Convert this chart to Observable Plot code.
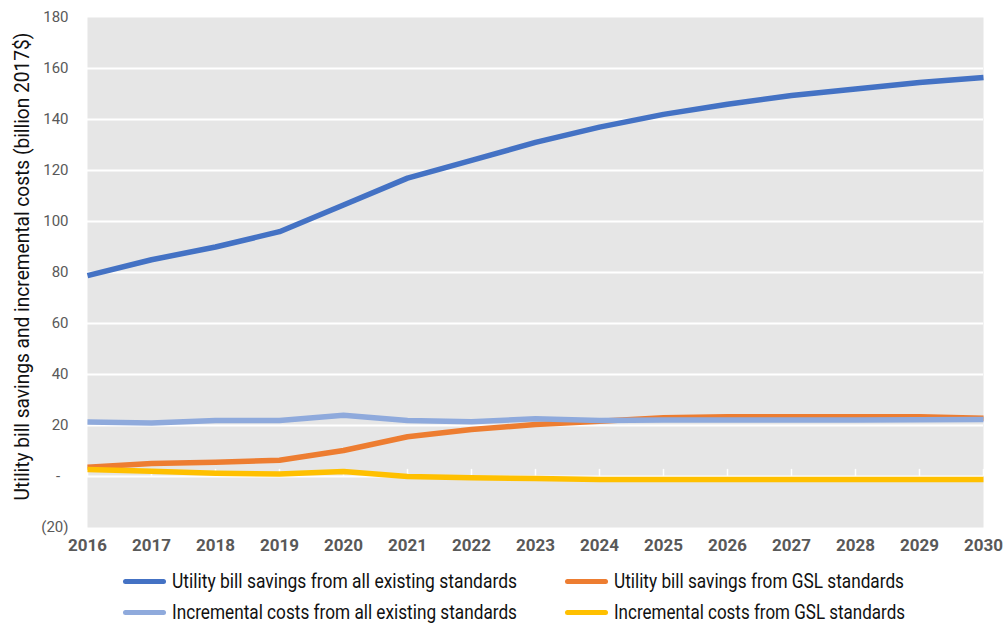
<!DOCTYPE html>
<html>
<head>
<meta charset="utf-8">
<script src="https://cdn.jsdelivr.net/npm/d3@7"></script>
<script src="https://cdn.jsdelivr.net/npm/@observablehq/plot@0.6"></script>
<style>
  body { margin: 0; background: #fff; width: 1005px; height: 625px; overflow: hidden; position: relative; }
  #chart { position: absolute; left: 0; top: 0; }
  .legend { position: absolute; left: 0; top: 0; font-family: Roboto, sans-serif; font-size: 20px; color: #111; }
  .item { position: absolute; height: 24px; white-space: nowrap; }
  .sw { position: absolute; left: 0; top: 10px; width: 43px; height: 5px; border-radius: 3px; }
  .lab { position: absolute; left: 49px; top: 0; line-height: 24px; transform-origin: 0 50%; }
</style>
</head>
<body>
<div id="chart"></div>
<div class="legend" id="legend"></div>
<script>
// Years on the horizontal axis
const years = [2016, 2017, 2018, 2019, 2020, 2021, 2022, 2023, 2024, 2025, 2026, 2027, 2028, 2029, 2030];

// Series values, billion 2017$
const savingsAll = [78.8, 85, 90, 96, 106.5, 117, 124, 131, 137, 142, 146, 149.4, 152, 154.5, 156.5];
const savingsGSL = [3.6, 5.1, 5.6, 6.4, 10.2, 15.6, 18.4, 20.4, 21.7, 23, 23.4, 23.4, 23.4, 23.4, 22.8];
const costsAll   = [21.4, 21, 22, 22, 24, 22, 21.5, 22.6, 22, 22.2, 22.2, 22.2, 22.2, 22.3, 22.4];
const costsGSL   = [2.7, 2.1, 1.3, 1.0, 2.0, 0, -0.5, -0.8, -1.2, -1.2, -1.2, -1.2, -1.2, -1.2, -1.2];

// Y tick values
const yTicks = [-20, 0, 20, 40, 60, 80, 100, 120, 140, 160, 180];

const seriesNames = [
  "Utility bill savings from all existing standards",
  "Utility bill savings from GSL standards",
  "Incremental costs from all existing standards",
  "Incremental costs from GSL standards"
];
const seriesColors = ["#4472C4", "#ED7D31", "#8FAADC", "#FFC000"];
const seriesValues = [savingsAll, savingsGSL, costsAll, costsGSL];

const yTitle = "Utility bill savings and incremental costs (billion 2017$)";

const rows = [];
seriesValues.forEach((vals, i) => {
  vals.forEach((v, j) => rows.push({series: seriesNames[i], year: years[j], value: v}));
});

// Accounting-style labels: dash for zero, parentheses for negatives
const fmtY = v => v === 0 ? "-\u2007" : v < 0 ? `(${Math.abs(v)})` : String(v);

const chart = Plot.plot({
  width: 1005,
  height: 565,
  marginTop: 17,
  marginBottom: 38,
  marginLeft: 87,
  marginRight: 22,
  style: { background: "transparent", overflow: "visible" },
  x: { domain: [2016, 2030], ticks: years, tickFormat: d => String(d), label: null },
  y: { domain: [-20, 180], ticks: yTicks, label: null },
  color: { domain: seriesNames, range: seriesColors },
  marks: [
    Plot.frame({ fill: "#e6e6e6", stroke: "none" }),
    Plot.gridY(yTicks.filter(t => t > -20 && t < 180), { stroke: "#ffffff", strokeOpacity: 1, strokeWidth: 2 }),
    Plot.ruleX(years, { x: d => d, y1: 0, y2: 2.8, stroke: "#ffffff", strokeWidth: 1.5 }),
    Plot.axisY(yTicks, {
      tickSize: 0, tickPadding: 19, tickFormat: fmtY,
      fontSize: 15, fill: "#595959", fontFamily: "Roboto, sans-serif"
    }),
    Plot.axisX(years, {
      tickSize: 0, tickPadding: 11, tickFormat: d => String(d),
      fontSize: 17, fontWeight: "bold", fill: "#595959", fontFamily: "Roboto, sans-serif"
    }),
    Plot.line(rows, {
      x: "year", y: "value", z: "series", stroke: "series",
      strokeWidth: 5.5, strokeLinejoin: "round", strokeLinecap: "butt"
    }),
    Plot.text([yTitle], {
      frameAnchor: "left", dx: -65, dy: -6, rotate: -90, textAnchor: "middle", text: d => d,
      fontSize: 21, fill: "#111", fontFamily: "Roboto, sans-serif", className: "ytitle"
    })
  ]
});
document.getElementById("chart").appendChild(chart);

// Condense the axis title horizontally (along its own baseline)
chart.querySelectorAll(".ytitle text").forEach(t => {
  const len = t.getComputedTextLength();
  const k = 468 / len;
  const tr = t.getAttribute("transform") || "";
  t.setAttribute("transform", `${tr} scale(${k},1)`);
});

// Legend below the plot, two columns by two rows
const legendPos = [
  { x: 123, y: 569, w: 345 }, { x: 565, y: 569, w: 290 },
  { x: 123, y: 600, w: 345 }, { x: 565, y: 600, w: 291 }
];
const legend = document.getElementById("legend");
seriesNames.forEach((name, i) => {
  const item = document.createElement("div");
  item.className = "item";
  item.style.left = legendPos[i].x + "px";
  item.style.top = legendPos[i].y + "px";
  const sw = document.createElement("span");
  sw.className = "sw";
  sw.style.background = seriesColors[i];
  const label = document.createElement("span");
  label.className = "lab";
  label.textContent = name;
  item.appendChild(sw);
  item.appendChild(label);
  legend.appendChild(item);
  const w = label.getBoundingClientRect().width;
  label.style.transform = `scaleX(${legendPos[i].w / w})`;
});
</script>
</body>
</html>
